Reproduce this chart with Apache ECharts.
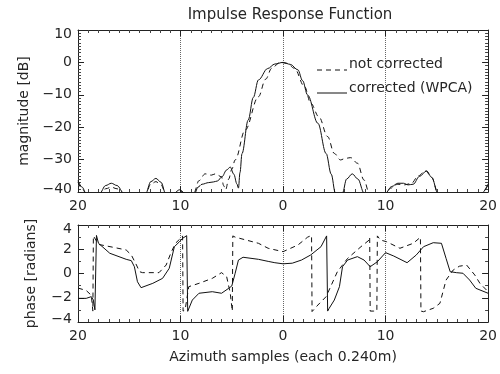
<!DOCTYPE html>
<html>
<head>
<meta charset="utf-8">
<script src="https://cdn.jsdelivr.net/npm/echarts@6/dist/echarts.min.js"></script>
<style>html,body{margin:0;padding:0;background:#fff}#c{width:500px;height:374px}</style>
</head>
<body>
<div id="c"></div>
<script>
// ---- data ----
const xTicks = [-20, -10, 0, 10, 20];
const magTicks = [-40, -30, -20, -10, 0, 10];
const phaseTicks = [-4, -2, 0, 2, 4];

const magCorrectedX = [-20,-19.6,-19.2,-18.6,-17.9,-17.3,-16.75,-16.2,-15.5,-14.5,-13.4,-12.9,-12.4,-11.9,-11.45,-10.8,-10.6,-10.1,-9.6,-9.3,-8.6,-8.3,-7.9,-7.25,-6.8,-6.4,-5.96,-5.5,-5.15,-4.8,-4.5,-4.35,-4.2,-4.0,-3.4,-2.9,-2.4,-1.5,-0.8,0,0.7,1.45,1.9,2.4,3.4,4.2,4.7,5.1,5.4,5.8,6.2,6.75,7.3,7.9,8.5,9.5,10.0,10.6,11.2,11.75,12.2,12.7,13.3,14.0,14.5,15.1,15.5,19.0,19.4,20];
const magCorrectedDb = [-36.5,-38.5,-40.5,-48,-40.5,-38,-37.3,-38,-40.5,-48,-40.5,-36.8,-35.8,-37,-40.5,-46,-40.3,-39.3,-40.3,-46,-40.3,-38.5,-37.6,-37.1,-36.9,-36.6,-35.3,-33.2,-32.3,-34.5,-37.5,-38.8,-34,-28.1,-17.8,-10.8,-5.4,-1.9,-0.5,0,-0.6,-2.3,-5.6,-10.1,-18.8,-28.1,-34.5,-40.3,-46,-40.3,-36,-34.4,-36,-40.3,-48,-48,-40.3,-38.3,-37.3,-37.3,-37.8,-37.6,-35.2,-33.5,-35.5,-40.3,-48,-48,-40.3,-37.5];

const magNotCorrectedX = [-20,-19.6,-19.2,-18.6,-17.9,-17.3,-16.75,-16.2,-15.5,-14.5,-13.4,-12.9,-12.4,-11.9,-11.45,-10.8,-10.6,-10.1,-9.6,-9.2,-8.7,-8.2,-7.6,-7.0,-6.6,-6.0,-5.8,-5.6,-5.3,-5.0,-4.67,-3.7,-2.4,-1.7,-1.1,-0.3,0.4,1.1,2.1,2.7,3.5,4.35,5.0,5.6,6.1,6.6,7.25,7.9,8.4,8.8,9.6,10.0,10.5,11.2,11.8,12.5,13.2,13.9,14.5,15.1,15.5,19.0,19.4,20];
const magNotCorrectedDb = [-37,-39,-40.5,-48,-40.5,-39,-38.5,-39,-40.5,-48,-40.5,-37.6,-36.8,-37.8,-40.5,-46,-40.3,-39.5,-40.3,-46,-40.3,-36.5,-34.4,-34.8,-34.4,-35.3,-38,-39.3,-36,-33,-30.1,-20.9,-10.6,-5.2,-1.8,0,-0.3,-1.8,-7.5,-12.6,-16.8,-22.9,-28.1,-30.1,-29.6,-29.4,-31.1,-36.3,-40.3,-48,-48,-40.3,-38.8,-37.6,-37.8,-37.4,-35,-33.4,-35.5,-40.3,-48,-48,-40.3,-37.8];

const phaseCorrectedX = [-20,-19.2,-18.7,-18.5,-18.35,-18.25,-18.2,-18.0,-16.9,-15.3,-14.8,-14.5,-14.2,-13.85,-12.7,-11.75,-11.1,-10.6,-10.1,-9.8,-9.4,-9.3,-9.2,-8.85,-8.2,-6.9,-6.0,-5.3,-5.0,-4.67,-4.35,-3.9,-2.4,-1.45,-0.8,0,0.9,1.8,2.7,3.7,4.25,4.35,4.5,5.0,5.5,5.8,6.3,7.25,7.9,8.5,9.2,10.0,10.8,12.1,13.0,13.7,14.65,15.45,15.9,16.3,16.9,17.55,18.2,18.8,20];
const phaseCorrectedRad = [-2.05,-2.05,-1.91,-2.19,-3.0,-3.14,3.14,2.49,1.67,1.17,1.06,0.56,-0.68,-1.17,-0.81,-0.40,0.43,2.21,2.62,2.90,3.12,-3.12,-3.01,-2.19,-1.63,-1.50,-1.63,-1.22,-1.03,0.02,1.11,1.34,1.17,1.0,0.89,0.8,0.85,1.11,1.53,2.21,3.1,-3.1,-2.87,-2.19,-1.09,0.56,1.11,1.39,1.11,0.56,0.97,1.72,1.44,0.89,1.53,2.21,2.54,2.49,1.25,0.15,0.07,0.02,-0.54,-1.22,-1.63];

const phaseNotCorrectedX = [-20,-19.2,-18.7,-18.55,-18.5,-18.45,-18.0,-16.5,-15.3,-14.8,-14.3,-14.0,-13.7,-12.1,-11.4,-10.95,-10.5,-10.0,-9.8,-9.75,-9.55,-9.2,-8.2,-6.9,-6.0,-5.5,-5.15,-5.0,-4.95,-4.9,-4.67,-2.4,-1.45,0,1.45,2.4,2.78,2.83,3.4,4.2,5.3,6.3,7.6,8.4,8.45,8.5,8.85,9.15,9.2,9.5,10.1,11.4,12.7,13.4,13.45,13.7,14.65,15.3,15.9,16.6,17.2,17.9,18.7,19.2,20];
const phaseNotCorrectedRad = [-1.2,-1.4,-1.8,-3.1,3.1,3.0,2.4,2.15,1.94,1.53,0.70,0.15,0.07,0.07,0.70,1.67,2.49,2.90,3.1,-3.1,-3.0,-1.09,-0.81,-0.40,0.07,-0.26,-1.63,-2.74,-3.1,3.1,3.0,2.49,2.08,1.80,2.35,3.0,3.14,-3.14,-2.6,-1.91,0.15,1.25,2.21,2.76,3.0,-3.1,-3.1,-3.1,3.1,2.76,2.62,2.08,2.49,2.99,-3.1,-3.15,-2.87,-2.46,-0.54,0.29,0.6,0.70,-0.12,-0.81,-1.50];

const seriesNames = ['not corrected', 'corrected (WPCA)'];

// ---- chart ----
const zip = (xs, ys) => xs.map((x, i) => [x, ys[i]]);
const FONT = 'DejaVu Sans';
const TXT = '#262626';
const minus = v => (v < 0 ? '\u2212' + Math.abs(v) : String(v));

function xAx(grid, pos, labels, name) {
  return {
    type: 'value', gridIndex: grid, position: pos,
    min: xTicks[0], max: xTicks[xTicks.length - 1], interval: 10,
    axisLine: { show: true, onZero: false, lineStyle: { color: '#222', width: 1 } },
    axisTick: { show: true, inside: true, length: 6, lineStyle: { color: '#222' } },
    minorTick: { show: true, splitNumber: 10, length: 3, lineStyle: { color: '#444' } },
    axisLabel: { show: labels, formatter: v => String(Math.abs(v)), color: TXT, fontFamily: FONT, fontSize: 14, margin: 7 },
    splitLine: { show: pos === 'bottom', lineStyle: { color: '#666', type: 'dotted', width: 1 } },
    name: name || '', nameLocation: 'middle', nameGap: 28,
    nameTextStyle: { color: TXT, fontFamily: FONT, fontSize: 14 }
  };
}
function yAx(grid, pos, labels, min, max, interval, minor, name, gap) {
  return {
    type: 'value', gridIndex: grid, position: pos, min, max, interval,
    axisLine: { show: true, onZero: false, lineStyle: { color: '#222', width: 1 } },
    axisTick: { show: true, inside: true, length: 6, lineStyle: { color: '#222' } },
    minorTick: { show: true, splitNumber: minor, length: 3, lineStyle: { color: '#444' } },
    axisLabel: {
      show: labels, color: TXT, fontFamily: FONT, fontSize: 14, margin: 6,
      formatter: v => v === max ? '{t|' + minus(v) + '}' : (v === min ? '{b|' + minus(v) + '}' : minus(v)),
      rich: {
        t: { color: TXT, fontFamily: FONT, fontSize: 14, padding: [9, 0, 0, 0] },
        b: { color: TXT, fontFamily: FONT, fontSize: 14, padding: [0, 0, 6, 0] }
      }
    },
    splitLine: { show: false },
    name: name || '', nameLocation: 'middle', nameGap: gap || 40, nameRotate: 90,
    nameTextStyle: { color: TXT, fontFamily: FONT, fontSize: 14 }
  };
}
function line(name, data, xi, yi, dashed, smooth) {
  return {
    name, type: 'line', data, xAxisIndex: xi, yAxisIndex: yi,
    showSymbol: false, symbol: 'none', clip: true, animation: false,
    smooth: smooth || false, smoothMonotone: smooth ? 'x' : undefined,
    lineStyle: { color: '#111', width: 1, type: dashed ? [5, 4] : 'solid' }
  };
}

const chart = echarts.init(document.getElementById('c'), null, { renderer: 'canvas' });
chart.setOption({
  backgroundColor: '#fff',
  animation: false,
  title: {
    text: 'Impulse Response Function', left: 285, top: 3, textAlign: 'center',
    textStyle: { color: TXT, fontFamily: FONT, fontSize: 15, fontWeight: 'normal' }
  },
  grid: [
    { left: 78, top: 30, width: 414, height: 162 },
    { left: 78, top: 225, width: 414, height: 97 }
  ],
  xAxis: [
    xAx(0, 'bottom', true),
    xAx(0, 'top', false),
    xAx(1, 'bottom', true, 'Azimuth samples (each 0.240m)'),
    xAx(1, 'top', false)
  ],
  yAxis: [
    yAx(0, 'left', true, magTicks[0], magTicks[magTicks.length - 1], 10, 10, 'magnitude [dB]', 40),
    yAx(0, 'right', false, magTicks[0], magTicks[magTicks.length - 1], 10, 10),
    yAx(1, 'left', true, phaseTicks[0], phaseTicks[phaseTicks.length - 1], 2, 2, 'phase [radians]', 40),
    yAx(1, 'right', false, phaseTicks[0], phaseTicks[phaseTicks.length - 1], 2, 2)
  ],
  series: [
    line(seriesNames[0], zip(magNotCorrectedX, magNotCorrectedDb), 0, 0, true, 0.35),
    line(seriesNames[1], zip(magCorrectedX, magCorrectedDb), 0, 0, false, 0.35),
    line(seriesNames[0], zip(phaseNotCorrectedX, phaseNotCorrectedRad), 2, 2, true),
    line(seriesNames[1], zip(phaseCorrectedX, phaseCorrectedRad), 2, 2, false)
  ],
  graphic: [
    { type: 'line', shape: { x1: 317, y1: 70, x2: 347, y2: 70 }, style: { stroke: '#111', lineWidth: 1, lineDash: [5, 4] } },
    { type: 'text', left: 349, top: 57, style: { text: seriesNames[0], fill: TXT, font: '14px "DejaVu Sans"' } },
    { type: 'line', shape: { x1: 317, y1: 93, x2: 347, y2: 93 }, style: { stroke: '#111', lineWidth: 1 } },
    { type: 'text', left: 349, top: 81, style: { text: seriesNames[1], fill: TXT, font: '14px "DejaVu Sans"' } }
  ]
});
</script>
</body>
</html>
